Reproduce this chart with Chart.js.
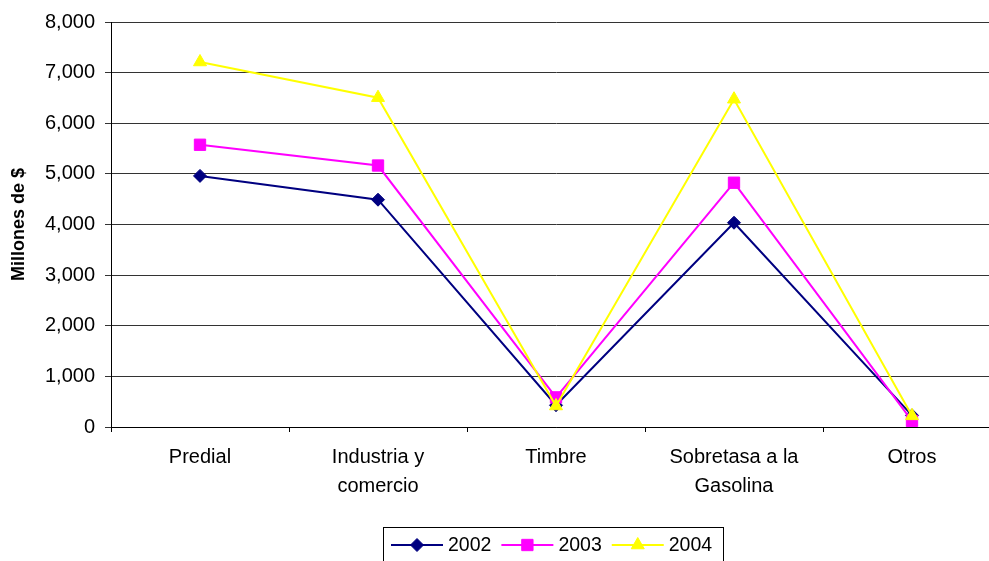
<!DOCTYPE html>
<html>
<head>
<meta charset="utf-8">
<script src="https://cdn.jsdelivr.net/npm/chart.js@4/dist/chart.umd.min.js"></script>
<style>
  html, body { margin: 0; padding: 0; background: #fff; overflow: hidden; }
  #wrap { width: 1010px; height: 561px; }
</style>
</head>
<body>
<div id="wrap"><canvas id="chart" width="1010" height="561"></canvas></div>
<script>
// --- data ---
const categories = ['Predial', ['Industria y', 'comercio'], 'Timbre', ['Sobretasa a la', 'Gasolina'], 'Otros'];
const years = ['2002', '2003', '2004'];
const values2002 = [4960, 4490, 430, 4035, 230];
const values2003 = [5575, 5165, 585, 4825, 120];
const values2004 = [7210, 6505, 415, 6475, 220];
const yTicks = [0, 1000, 2000, 3000, 4000, 5000, 6000, 7000, 8000];

const colors = ['#000080', '#FF00FF', '#FFFF00'];
const markers = ['rectRot', 'rect', 'triangle'];
const markerSize = [6.5, 8, 7.5];
const FONT = "'Liberation Sans', Arial, sans-serif";

function makeSeries(label, data, i) {
  return {
    label: label,
    data: data,
    order: 2 - i, // later years drawn on top, like the original
    borderColor: colors[i],
    backgroundColor: colors[i],
    borderWidth: 2,
    pointStyle: markers[i],
    pointRadius: markerSize[i],
    pointHoverRadius: markerSize[i],
    pointBorderWidth: 1,
    pointBackgroundColor: colors[i],
    pointBorderColor: colors[i],
    tension: 0,
    fill: false
  };
}

function drawMarker(ctx, style, r, x, y) {
  Chart.helpers.drawPoint(ctx, { pointStyle: style, radius: r, borderWidth: 1, rotation: 0 }, x, y);
}

// legend drawn by hand: line + marker + text inside a box
const boxLegend = {
  id: 'boxLegend',
  afterDraw(chart) {
    const ctx = chart.ctx;
    const left = 383, top = 527, right = 723;
    ctx.save();
    ctx.strokeStyle = '#000';
    ctx.lineWidth = 1;
    ctx.strokeRect(left + 0.5, top + 0.5, right - left, 60);
    ctx.font = '19.5px ' + FONT;
    ctx.textBaseline = 'middle';
    let x = left + 8;
    const y = 545;
    chart.data.datasets.forEach((ds) => {
      ctx.strokeStyle = ds.borderColor;
      ctx.lineWidth = 2;
      ctx.beginPath();
      ctx.moveTo(x, y);
      ctx.lineTo(x + 52, y);
      ctx.stroke();
      ctx.fillStyle = ds.borderColor;
      ctx.lineWidth = 1;
      drawMarker(ctx, ds.pointStyle, ds.pointRadius, x + 26, y);
      ctx.fillStyle = '#000';
      ctx.fillText(ds.label, x + 57, y + 1);
      x += 57 + ctx.measureText(ds.label).width + 10;
    });
    ctx.restore();
  }
};

new Chart(document.getElementById('chart'), {
  type: 'line',
  data: {
    labels: categories,
    datasets: [
      makeSeries(years[0], values2002, 0),
      makeSeries(years[1], values2003, 1),
      makeSeries(years[2], values2004, 2)
    ]
  },
  options: {
    responsive: false,
    animation: false,
    layout: { padding: { top: 22, left: 0, right: 1, bottom: 0 } },
    plugins: {
      legend: { display: false },
      tooltip: { enabled: false }
    },
    scales: {
      x: {
        offset: true,
        grid: {
          offset: true,
          drawOnChartArea: false,
          drawTicks: true,
          tickLength: 5,
          color: '#000'
        },
        border: { color: '#000', width: 1 },
        ticks: {
          color: '#000',
          padding: 11,
          maxRotation: 0,
          autoSkip: false,
          font: { family: FONT, size: 20, lineHeight: 1.45 }
        },
        afterFit(scale) { scale.height = 134; }
      },
      y: {
        min: 0,
        max: 8000,
        afterBuildTicks(scale) { scale.ticks = yTicks.map(v => ({ value: v })); },
        grid: {
          color: '#333',
          lineWidth: 1,
          tickLength: 6
        },
        border: { color: '#000', width: 1 },
        ticks: {
          color: '#000',
          padding: 10,
          font: { family: FONT, size: 20 },
          callback: v => v.toLocaleString('en-US')
        },
        title: {
          display: true,
          text: 'Millones de $',
          color: '#000',
          padding: { top: 8, bottom: 0 },
          font: { family: FONT, size: 18, weight: 'bold' }
        },
        afterFit(scale) { scale.width = 111; }
      }
    }
  },
  plugins: [boxLegend]
});
</script>
</body>
</html>
